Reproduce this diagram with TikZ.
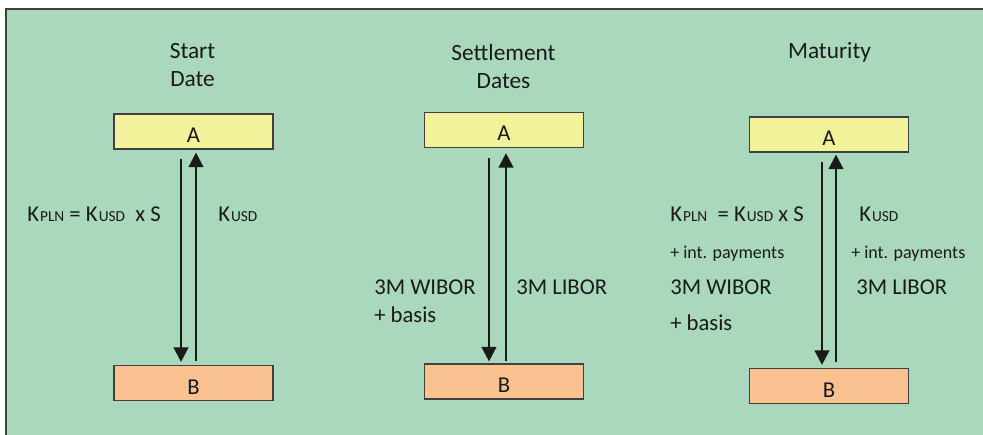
\documentclass[tikz,border=0pt]{standalone}
\usepackage{fontspec}
\setmainfont{Carlito}
\usetikzlibrary{arrows.meta,calc}
\definecolor{bggreen}{HTML}{AAD8BD}
\definecolor{boxyellow}{HTML}{F2F29A}
\definecolor{boxorange}{HTML}{FAC191}
\definecolor{edgegrey}{HTML}{404040}
\definecolor{ink}{HTML}{1A1A1A}
\newcommand{\sm}[1]{\kern0.8pt{\fontsize{11.5}{13}\selectfont #1}}
\tikzset{
  partybox/.style={draw=edgegrey, line width=1.1pt, minimum width=119pt, minimum height=26pt,
    text height=16.5pt, text depth=0pt, inner sep=0pt, font=\fontsize{17}{20}\selectfont, text=ink},
  boxA/.style={partybox, fill=boxyellow},
  boxB/.style={partybox, fill=boxorange},
  title/.style={anchor=base, font=\fontsize{17.5}{21}\selectfont, text=ink, inner sep=0pt},
  biglabel/.style={anchor=base west, font=\fontsize{17}{20}\selectfont, text=ink, inner sep=0pt},
  smalllabel/.style={anchor=base west, font=\fontsize{13.5}{16}\selectfont, text=ink, inner sep=0pt},
  flow/.style={draw=ink, line width=1.8pt, -{Triangle[width=11pt,length=11pt]}},
}
\begin{document}
\begin{tikzpicture}[x=0.75pt,y=-0.75pt]
\useasboundingbox (0,0) rectangle (983,435);
\fill[bggreen] (6,9) rectangle (983,435);
\draw[edgegrey, line width=1.2pt] (6,435) -- (6,9) -- (983,9);

% ---- Panel 1: Start Date
\node[title] (t1a) at (192.5,59) {Start};
\node[title] (t1b) at (192.5,87) {Date};
\node[boxA] (A1) at (193.5,131.5) {A};
\node[boxB] (B1) at (193.5,383) {B};
\draw[flow] ($(A1.south)+(-12.5,9)$) -- ($(B1.north)+(-12.5,-3)$);
\draw[flow] ($(B1.north)+(2.5,-4)$) -- ($(A1.south)+(2.5,3)$);
\node[biglabel] (l1) at (27,221) {K\sm{PLN} = K\sm{USD}\ \ x S};
\node[biglabel] (r1) at (218,221) {K\sm{USD}};

% ---- Panel 2: Settlement Dates
\node[title] (t2a) at (503.5,61) {Settlement};
\node[title] (t2b) at (503.5,89) {Dates};
\node[boxA] (A2) at (504,130) {A};
\node[boxB] (B2) at (504,381.5) {B};
\draw[flow] ($(A2.south)+(-15,10)$) -- ($(B2.north)+(-15,-2)$);
\draw[flow] ($(B2.north)+(2,-2)$) -- ($(A2.south)+(2,5)$);
\node[biglabel] (l2a) at (374,294) {3M WIBOR};
\node[biglabel] (l2b) at (374,322) {+ basis};
\node[biglabel] (r2a) at (516,294) {3M LIBOR};

% ---- Panel 3: Maturity
\node[title] (t3) at (829.5,59) {Maturity};
\node[boxA] (A3) at (829,134.5) {A};
\node[boxB] (B3) at (829,386) {B};
\draw[flow] ($(A3.south)+(-7,9)$) -- ($(B3.north)+(-7,-3)$);
\draw[flow] ($(B3.north)+(7,-6)$) -- ($(A3.south)+(7,2)$);
\node[biglabel] (l3a) at (670,221) {K\sm{PLN}\ \ = K\sm{USD} x S};
\node[smalllabel] (l3b) at (670,258) {+ int. payments};
\node[biglabel] (l3c) at (670,294) {3M WIBOR};
\node[biglabel] (l3d) at (670,330) {+ basis};
\node[biglabel] (r3a) at (859,221) {K\sm{USD}};
\node[smalllabel] (r3b) at (851,258) {+ int. payments};
\node[biglabel] (r3c) at (856,294) {3M LIBOR};
\end{tikzpicture}
\end{document}
